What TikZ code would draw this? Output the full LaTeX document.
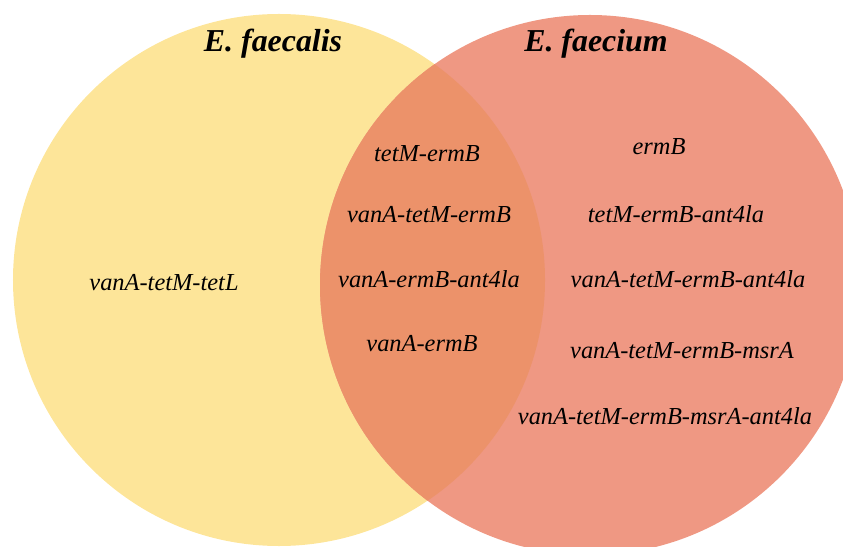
\documentclass[tikz,border=0pt]{standalone}
\usepackage{fontspec}
\setmainfont{Liberation Serif}
\definecolor{faecalisfill}{RGB}{253,229,153}
\definecolor{faeciumfill}{RGB}{239,152,131}
\definecolor{sharedfill}{RGB}{236,146,106}
\tikzset{
  settitle/.style={anchor=base, inner sep=0pt, font=\fontsize{32}{36}\selectfont\bfseries\itshape},
  gene/.style={anchor=base, inner sep=0pt, font=\fontsize{24.5}{28}\selectfont\itshape},
}
\begin{document}
\begin{tikzpicture}[x=1bp, y=-1bp]
  \useasboundingbox (0,0) rectangle (843,547);
  \clip (0,0) rectangle (843,547);
  % the two sets and their intersection
  \coordinate (cfs) at (279,280);
  \coordinate (cfm) at (590,285);
  \fill[faecalisfill] (cfs) circle[radius=266bp];
  \fill[faeciumfill] (cfm) circle[radius=270bp];
  \begin{scope}
    \clip (cfs) circle[radius=266bp];
    \fill[sharedfill] (cfm) circle[radius=270bp];
  \end{scope}
  % set names
  \node[settitle] (tfs) at (273,52) {E. faecalis};
  \node[settitle] (tfm) at (596,52) {E. faecium};
  % only E. faecalis
  \node[gene] (g1) at (164,291) {vanA-tetM-tetL};
  % both
  \node[gene] (s1) at (427,162) {tetM-ermB};
  \node[gene] (s2) at (429,223) {vanA-tetM-ermB};
  \node[gene] (s3) at (429,288) {vanA-ermB-ant4la};
  \node[gene] (s4) at (422,351) {vanA-ermB};
  % only E. faecium
  \node[gene] (m1) at (659,155) {ermB};
  \node[gene] (m2) at (676,223) {tetM-ermB-ant4la};
  \node[gene] (m3) at (688,288) {vanA-tetM-ermB-ant4la};
  \node[gene] (m4) at (682,358) {vanA-tetM-ermB-msrA};
  \node[gene] (m5) at (665,424) {vanA-tetM-ermB-msrA-ant4la};
\end{tikzpicture}
\end{document}
